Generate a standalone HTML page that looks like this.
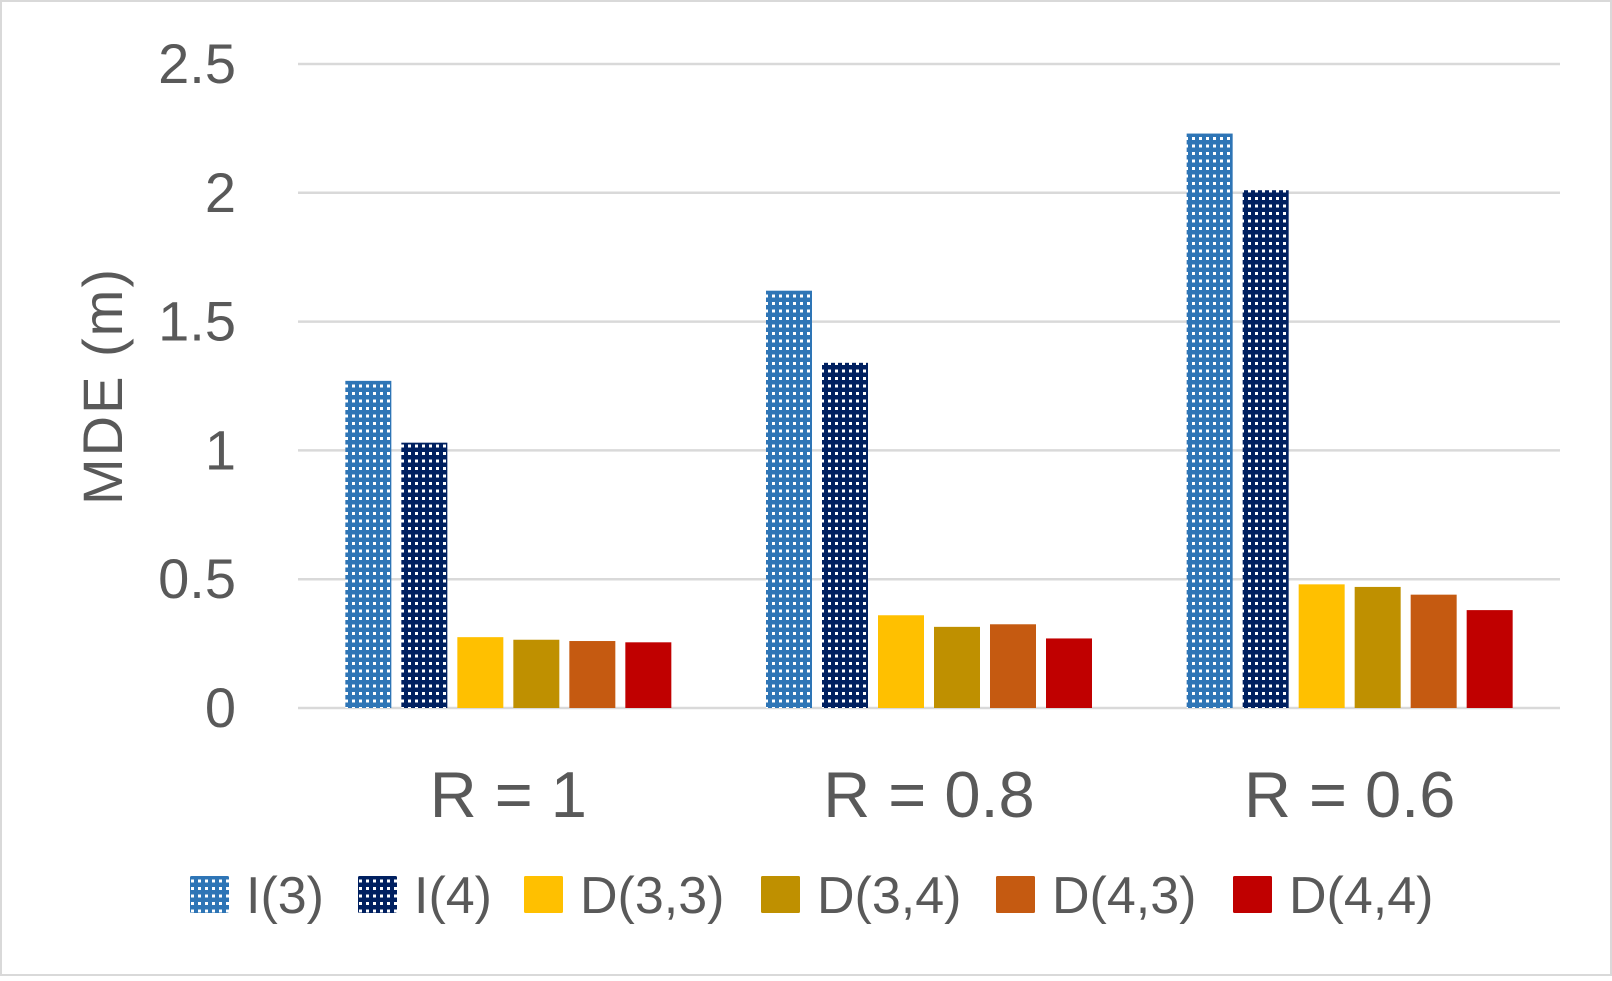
<!DOCTYPE html>
<html><head><meta charset="utf-8"><style>
html,body{margin:0;padding:0;background:#fff}
svg text{font-family:"Liberation Sans",sans-serif;fill:#595959}
</style></head><body>
<svg id="chart" width="1612" height="976" viewBox="0 0 1612 976" xmlns="http://www.w3.org/2000/svg">
<defs>
<pattern id="pat-i3" width="7" height="7.5" patternUnits="userSpaceOnUse"><rect width="7" height="7.5" fill="#2e75b6"/><rect x="2" y="2" width="3" height="3" fill="#fff"/></pattern>
<pattern id="pat-i4" width="7" height="7.5" patternUnits="userSpaceOnUse"><rect width="7" height="7.5" fill="#002060"/><rect x="2" y="2" width="3" height="3" fill="#fff"/></pattern>
</defs>
<rect x="1" y="1" width="1610" height="974" fill="#fff" stroke="#d9d9d9" stroke-width="2"/>
<g id="grid"></g><g id="bars"></g><g id="labels"></g><g id="legend"></g>
<text transform="translate(122,386) rotate(-90)" text-anchor="middle" font-size="56" letter-spacing="2">MDE (m)</text>
</svg>
<script>
const categories = ['R = 1','R = 0.8','R = 0.6'];
const seriesNames = ['I(3)','I(4)','D(3,3)','D(3,4)','D(4,3)','D(4,4)'];
const seriesI3 = [1.27,1.62,2.23];
const seriesI4 = [1.03,1.34,2.01];
const seriesD33 = [0.275,0.36,0.48];
const seriesD34 = [0.265,0.315,0.47];
const seriesD43 = [0.26,0.325,0.44];
const seriesD44 = [0.255,0.27,0.38];
const yTicks = [0,0.5,1,1.5,2,2.5];
const yTickLabels = ['0','0.5','1','1.5','2','2.5'];
const allSeries = [seriesI3,seriesI4,seriesD33,seriesD34,seriesD43,seriesD44];
const fills = ['url(#pat-i3)','url(#pat-i4)','#ffc000','#bf9000','#c55a11','#c00000'];
const NS='http://www.w3.org/2000/svg';
const plotL=298, plotR=1560, y0=708, y25=64;
const yScale=v=>y0-(v/2.5)*(y0-y25);
const catW=(plotR-plotL)/categories.length;
const xCenter=i=>plotL+catW*(i+0.5);
const barW=46, step=56;
function mk(tag,attrs,parent){const e=document.createElementNS(NS,tag);for(const k in attrs)e.setAttribute(k,attrs[k]);parent.appendChild(e);return e;}
const grid=document.getElementById('grid'), bars=document.getElementById('bars'), labels=document.getElementById('labels'), legend=document.getElementById('legend');
yTicks.forEach((t,i)=>{
  const l=mk('line',{x1:plotL,x2:plotR,y1:yScale(t),y2:yScale(t),stroke:'#d9d9d9','stroke-width':2.5},grid);
  
  
  const tx=mk('text',{x:236,y:yScale(t)+19,'text-anchor':'end','font-size':56},labels);
  tx.textContent=yTickLabels[i];
  
  
});
categories.forEach((c,ci)=>{
  const cx=xCenter(ci);
  allSeries.forEach((s,si)=>{
    const x=cx-(step*6-(step-barW))/2+si*step;
    const y=yScale(s[ci]);
    const r=mk('rect',{x:x,y:y,width:barW,height:y0-y,fill:fills[si]},bars);
    
    
  });
  const t=mk('text',{x:cx,y:817,'text-anchor':'middle','font-size':65},labels);
  t.textContent=c;
  
  
});
const legendX=[190,358,524,761,996,1233];
seriesNames.forEach((n,i)=>{
  const g=mk('g',{},legend);
  
  
  mk('rect',{x:legendX[i],y:876,width:39,height:37,rx:1.5,fill:fills[i]},g);
  const t=mk('text',{x:legendX[i]+56,y:913,'font-size':52},g);
  t.textContent=n;
});
</script>
</body></html>
